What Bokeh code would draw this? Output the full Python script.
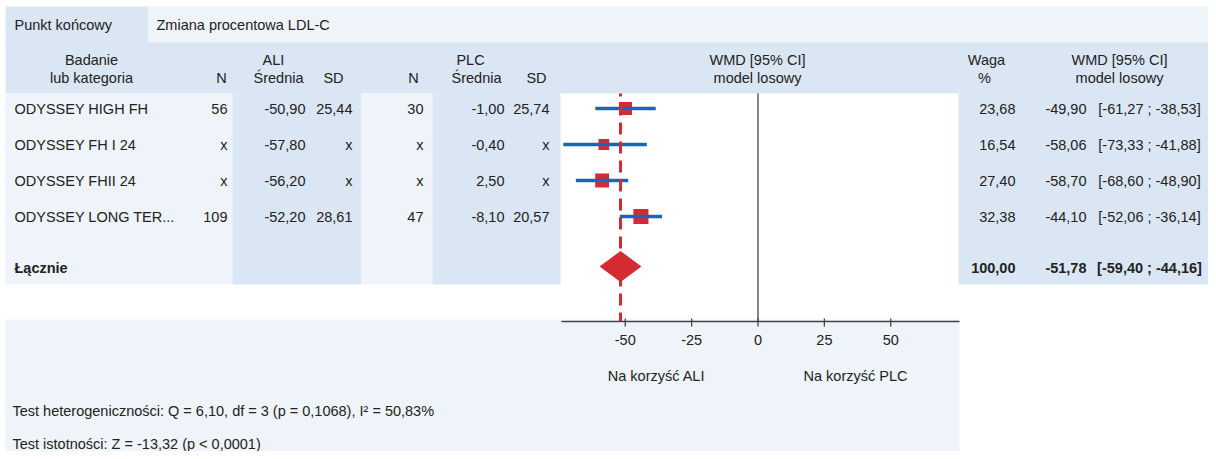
from bokeh.plotting import figure
from bokeh.models import Range1d
from bokeh.core.properties import value
from bokeh.embed import file_html
from bokeh.resources import INLINE

# ---------------- data ----------------
studies = ["ODYSSEY HIGH FH", "ODYSSEY FH I 24", "ODYSSEY FHII 24", "ODYSSEY LONG TER..."]
ali_n = ["56", "x", "x", "109"]
ali_mean = [-50.90, -57.80, -56.20, -52.20]
ali_sd = ["25,44", "x", "x", "28,61"]
plc_n = ["30", "x", "x", "47"]
plc_mean = [-1.00, -0.40, 2.50, -8.10]
plc_sd = ["25,74", "x", "x", "20,57"]
weights = [23.68, 16.54, 27.40, 32.38]
wmd = [-49.90, -58.06, -58.70, -44.10]
ci_lo = [-61.27, -73.33, -68.60, -52.06]
ci_hi = [-38.53, -41.88, -48.90, -36.14]
pooled_weight = 100.00
pooled_wmd = -51.78
pooled_lo = -59.40
pooled_hi = -44.16
ticks = [-50, -25, 0, 25, 50]
endpoint = "Zmiana procentowa LDL-C"
het_text = "Test heterogeniczności: Q = 6,10, df = 3 (p = 0,1068), I² = 50,83%"
sig_text = "Test istotności: Z = -13,32 (p < 0,0001)"


def fmt(v):
    return f"{v:.2f}".replace(".", ",")


# ---------------- layout / style ----------------
DARK = "#dae6f3"
LIGHT = "#eff4fa"
RED = "#d42a32"
BLUE = "#1767b4"
TXT = "#222222"
FONT = value("Liberation Sans")
FS = "14.5px"

W, H = 1208, 451
ZERO_PX = 757.5
PX_PER_UNIT = 2.655

p = figure(width=W, height=H, x_range=Range1d(0, W), y_range=Range1d(H, 0),
           output_backend="svg", toolbar_location=None, min_border=0,
           x_axis_location=None, y_axis_location=None)
p.grid.visible = False
p.outline_line_color = None
p.background_fill_color = "white"
p.border_fill_color = "white"
p.extra_x_ranges = {"wmd": Range1d((0 - ZERO_PX) / PX_PER_UNIT, (W - ZERO_PX) / PX_PER_UNIT)}

# backgrounds
bg = [
    (5, 148, 6, 42, DARK),
    (148, W, 6, 42, LIGHT),
    (5, W, 42, 93, DARK),
    (5, 232, 93, 284, LIGHT),
    (232, 361, 93, 284, DARK),
    (361, 432, 93, 284, LIGHT),
    (432, 560, 93, 284, DARK),
    (958, W, 93, 284, DARK),
    (5, 959, 319, H, LIGHT),
]
p.quad(left=[b[0] for b in bg], right=[b[1] for b in bg], top=[b[2] for b in bg],
       bottom=[b[3] for b in bg], fill_color=[b[4] for b in bg], line_color=None)


def txt(x, y, s, align="left", bold=False, rng="default"):
    p.text(x=x, y=y, text=s, text_align=align, text_baseline="middle",
           text_font=FONT, text_font_size=FS, text_color=TXT,
           text_font_style="bold" if bold else "normal", x_range_name=rng)


# header
txt([14], [24], ["Punkt końcowy"])
txt([156], [24], [endpoint])
txt([91, 273, 470, 757, 986, 1119], [59] * 6,
    ["Badanie", "ALI", "PLC", "WMD [95% CI]", "Waga", "WMD [95% CI]"], align="center")
txt([91, 221, 278, 333, 413, 476, 536, 757, 984, 1119], [77] * 10,
    ["lub kategoria", "N", "Średnia", "SD", "N", "Średnia", "SD", "model losowy", "%", "model losowy"],
    align="center")

# rows
row_y = [108 + 36 * i for i in range(len(studies))]
pooled_y = 267
txt([14] * 4, row_y, studies)
txt([227] * 4, row_y, ali_n, align="right")
txt([305] * 4, row_y, [fmt(v) for v in ali_mean], align="right")
txt([352] * 4, row_y, ali_sd, align="right")
txt([423] * 4, row_y, plc_n, align="right")
txt([504] * 4, row_y, [fmt(v) for v in plc_mean], align="right")
txt([549] * 4, row_y, plc_sd, align="right")
txt([1015] * 4, row_y, [fmt(v) for v in weights], align="right")
txt([1086] * 4, row_y, [fmt(v) for v in wmd], align="right")
txt([1149] * 4, row_y, [f"[{fmt(a)} ; {fmt(b)}]" for a, b in zip(ci_lo, ci_hi)], align="center")

txt([14], [pooled_y], ["Łącznie"], bold=True)
txt([1015], [pooled_y], [fmt(pooled_weight)], align="right", bold=True)
txt([1086], [pooled_y], [fmt(pooled_wmd)], align="right", bold=True)
txt([1149], [pooled_y], [f"[{fmt(pooled_lo)} ; {fmt(pooled_hi)}]"], align="center", bold=True)

# forest plot
p.segment(x0=[0], x1=[0], y0=[93], y1=[321], line_color="#333333", line_width=1.2, x_range_name="wmd")
sizes = [2.65 * w ** 0.5 for w in weights]
p.scatter(x=wmd, y=row_y, size=sizes, marker="square", fill_color=RED, line_color=None, x_range_name="wmd")
p.segment(x0=ci_lo, x1=ci_hi, y0=row_y, y1=row_y, line_color=BLUE, line_width=3.5, x_range_name="wmd")
p.segment(x0=[pooled_wmd], x1=[pooled_wmd], y0=[321], y1=[93], line_color=RED, line_width=3,
          line_dash="12 7", line_dash_offset=3, x_range_name="wmd")
p.patch(x=[pooled_lo, pooled_wmd, pooled_hi, pooled_wmd],
        y=[pooled_y - 1, pooled_y - 16, pooled_y - 1, pooled_y + 14],
        fill_color=RED, line_color=RED, line_width=1, x_range_name="wmd")

# axis
ax_lo = (561 - ZERO_PX) / PX_PER_UNIT
ax_hi = (959 - ZERO_PX) / PX_PER_UNIT
p.segment(x0=[ax_lo], x1=[ax_hi], y0=[321], y1=[321], line_color="#444444", line_width=1.3, x_range_name="wmd")
p.segment(x0=ticks, x1=ticks, y0=[318] * 5, y1=[326] * 5, line_color="#444444", line_width=1.3, x_range_name="wmd")
txt(ticks, [339] * 5, [str(t) for t in ticks], align="center", rng="wmd")
txt([656, 855], [375, 375], ["Na korzyść ALI", "Na korzyść PLC"], align="center")

# tests
txt([12], [410], [het_text])
txt([12], [443], [sig_text])

open("out.html", "w").write(file_html(p, INLINE))
